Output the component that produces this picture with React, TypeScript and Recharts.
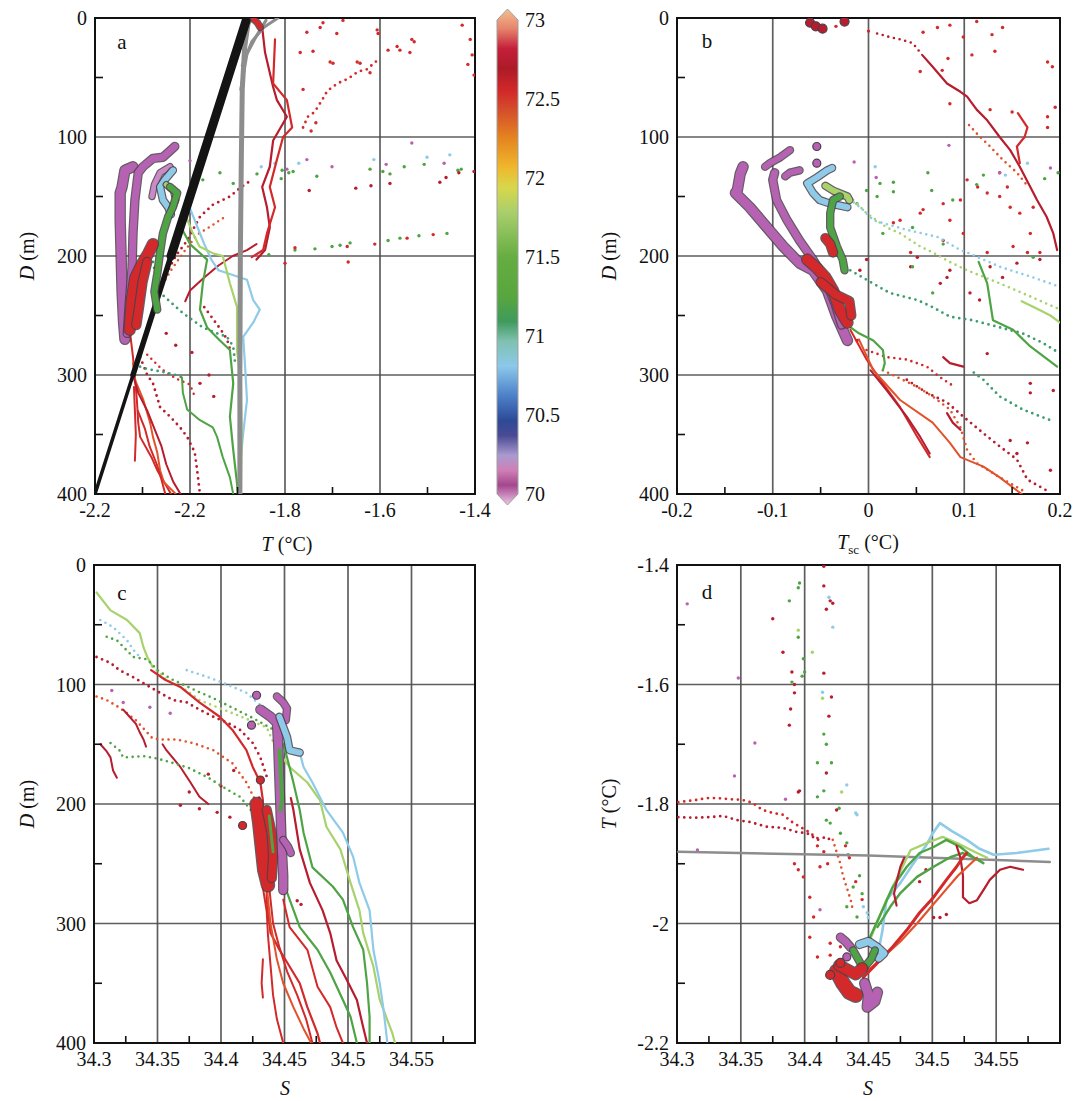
import React from 'react';
import { ScatterChart, Scatter, XAxis, YAxis, CartesianGrid, ReferenceArea } from 'recharts';

type P = [number, number];

// ---------- shared ticks ----------
const dTicks = [0, 100, 200, 300, 400];
const dMinor = [50, 150, 250, 350];
const aTTicks = [-2.2, -2.0, -1.8, -1.6, -1.4];
const aTTickLabels = ['-2.2', '-2.2', '-1.8', '-1.6', '-1.4'];
const aTMinor = [-2.1, -1.9, -1.7, -1.5];
const bTTicks = [-0.2, -0.1, 0, 0.1, 0.2];
const bTMinor = [-0.15, -0.05, 0.05, 0.15];
const sTicks = [34.3, 34.35, 34.4, 34.45, 34.5, 34.55];
const sMinor = [34.325, 34.375, 34.425, 34.475, 34.525, 34.575];
const dTTicks = [-2.2, -2.0, -1.8, -1.6, -1.4];
const dTMinor = [-2.1, -1.9, -1.7, -1.5];
const cbTicks = [70, 70.5, 71, 71.5, 72, 72.5, 73];
const cbAnchor: P[] = [[0.5, 71.5]];

// ---------- panel a : T vs D ----------
const aFreezeDeep: P[] = [[-2.2, 400], [-2.12, 300]];
const aFreezeMid: P[] = [[-2.12, 300], [-2.04, 200]];
const aFreezeTop: P[] = [[-2.04, 200], [-1.96, 100], [-1.88, 0]];
const aGrayFan1: P[] = [[-1.89, 40], [-1.87, 20], [-1.845, 8], [-1.815, 0]];
const aGrayFan2: P[] = [[-1.893, 60], [-1.88, 30], [-1.86, 15], [-1.84, 2]];
const aGray: P[] = [[-1.895, 400], [-1.895, 300], [-1.894, 200], [-1.892, 120], [-1.89, 60], [-1.885, 25], [-1.878, 5], [-1.872, 0]];
const aRedTop: P[] = [[-1.866, 1], [-1.858, 4], [-1.852, 8]];
const aRedU1: P[] = [[-1.848, 8], [-1.842, 29], [-1.825, 58], [-1.817, 69], [-1.796, 83], [-1.825, 103], [-1.832, 125], [-1.848, 142], [-1.838, 159], [-1.832, 176], [-1.842, 195], [-1.86, 203]];
const aRedU2: P[] = [[-1.821, 18], [-1.825, 55], [-1.796, 69], [-1.785, 92], [-1.804, 100], [-1.817, 119], [-1.832, 142], [-1.821, 159], [-1.838, 181], [-1.846, 195], [-1.87, 201]];
const aRedUR: P[] = [[-1.762, 92], [-1.752, 83], [-1.741, 80], [-1.733, 76], [-1.722, 69], [-1.712, 62], [-1.701, 58], [-1.684, 54], [-1.667, 51], [-1.646, 45], [-1.627, 43], [-1.604, 35]];
const aRedDotsUR: P[] = [[-1.72, 4], [-1.678, 2], [-1.606, 10], [-1.604, 13], [-1.754, 12], [-1.726, 8], [-1.691, 13], [-1.768, 29], [-1.741, 28], [-1.705, 37], [-1.699, 38], [-1.648, 37], [-1.642, 38], [-1.621, 46], [-1.583, 27], [-1.564, 24], [-1.558, 27], [-1.533, 18], [-1.528, 20], [-1.537, 29], [-1.427, 6], [-1.41, 18], [-1.406, 31], [-1.415, 39], [-1.402, 48], [-1.762, 60], [-1.745, 95], [-1.735, 88]];
const aRowBlue: P[] = [[-1.821, 122], [-1.771, 122], [-1.613, 119], [-1.501, 117], [-1.453, 115], [-1.85, 125]];
const aRowMag: P[] = [[-1.796, 127], [-1.754, 119], [-1.701, 125], [-1.587, 123], [-1.533, 105], [-1.465, 122], [-2.0, 120]];
const aRowGreen: P[] = [[-1.792, 130], [-1.783, 129], [-1.733, 133], [-1.808, 135], [-1.621, 127], [-1.594, 129], [-1.579, 131], [-1.549, 125], [-1.507, 123], [-1.436, 128], [-1.429, 127], [-1.973, 136], [-1.937, 130], [-1.909, 139], [-1.859, 131], [-1.806, 128]];
const aRowRed: P[] = [[-1.749, 145], [-1.651, 143], [-1.619, 141], [-1.579, 139], [-1.474, 138], [-1.461, 134], [-1.434, 130], [-1.402, 129]];
const aLowGreen: P[] = [[-1.834, 199], [-1.779, 195], [-1.737, 194], [-1.701, 192], [-1.684, 191], [-1.663, 189], [-1.583, 187], [-1.558, 185], [-1.518, 183], [-1.459, 181]];
const aLowRed: P[] = [[-1.779, 193], [-1.669, 192], [-1.611, 190], [-1.543, 185], [-1.488, 182], [-1.667, 205], [-1.8, 206]];
const aRedMid1: P[] = [[-2.05, 215], [-2.03, 200], [-2.006, 187], [-1.979, 167], [-1.952, 157], [-1.916, 150], [-1.895, 143], [-1.87, 136]];
const aRedMid2: P[] = [[-2.07, 232], [-2.04, 212], [-2.01, 195], [-1.985, 182], [-1.96, 176], [-1.93, 168]];
const aRedMid3: P[] = [[-1.86, 190], [-1.88, 195], [-1.91, 200], [-1.94, 208], [-1.97, 218], [-2.0, 229], [-2.01, 238]];
const aRedMid4: P[] = [[-1.97, 243], [-1.955, 251], [-1.935, 262], [-1.922, 270], [-1.916, 278]];
const aRedMidDots: P[] = [[-1.996, 281], [-1.979, 307], [-1.96, 300], [-1.95, 318], [-2.03, 275], [-2.05, 265]];
const aRedD1: P[] = [[-2.126, 265], [-2.12, 285], [-2.116, 302], [-2.112, 320], [-2.109, 340], [-2.105, 352], [-2.08, 370], [-2.069, 380], [-2.05, 393], [-2.04, 400]];
const aRedD2: P[] = [[-2.12, 290], [-2.115, 305], [-2.099, 320], [-2.084, 340], [-2.078, 352], [-2.069, 365], [-2.063, 380], [-2.055, 390], [-2.03, 400]];
const aRedD3: P[] = [[-2.12, 300], [-2.109, 315], [-2.09, 330], [-2.075, 345], [-2.06, 360], [-2.05, 375], [-2.035, 390], [-2.02, 400]];
const aRedD4: P[] = [[-2.105, 285], [-2.09, 300], [-2.078, 307], [-2.063, 327], [-2.042, 335], [-2.021, 344], [-2.006, 352], [-1.99, 365], [-1.985, 380], [-1.979, 400]];
const aRedD5: P[] = [[-2.118, 310], [-2.116, 330], [-2.114, 350], [-2.116, 372]];
const aRedD6: P[] = [[-2.09, 283], [-2.06, 295], [-2.03, 303], [-2.0, 308], [-1.99, 318]];
const aRedD7: P[] = [[-2.11, 330], [-2.095, 345], [-2.085, 360], [-2.07, 375], [-2.06, 388], [-2.052, 400]];
const aMag1: P[] = [[-2.12, 125], [-2.137, 128], [-2.143, 142], [-2.147, 147], [-2.147, 170], [-2.145, 200], [-2.143, 230], [-2.14, 255], [-2.137, 270]];
const aMag2: P[] = [[-2.032, 108], [-2.057, 117], [-2.078, 118], [-2.099, 125], [-2.109, 130], [-2.116, 153], [-2.12, 181], [-2.122, 210], [-2.128, 240], [-2.132, 265]];
const aMag3: P[] = [[-2.042, 125], [-2.063, 130], [-2.075, 140], [-2.08, 150]];
const aBlueBlob: P[] = [[-2.036, 128], [-2.053, 136], [-2.063, 142], [-2.057, 153], [-2.046, 159], [-2.04, 165]];
const aLGreenBlob: P[] = [[-2.05, 140], [-2.035, 145], [-2.03, 153], [-2.038, 160]];
const aGreenBlob: P[] = [[-2.042, 142], [-2.027, 147], [-2.036, 159], [-2.046, 167], [-2.057, 181], [-2.063, 197], [-2.069, 215], [-2.075, 230], [-2.069, 245]];
const aRedBlob1: P[] = [[-2.078, 190], [-2.088, 198], [-2.1, 206], [-2.115, 218], [-2.122, 235], [-2.125, 250], [-2.127, 262]];
const aRedBlob2: P[] = [[-2.09, 205], [-2.1, 222], [-2.108, 245], [-2.113, 258]];
const aLBlueProf: P[] = [[-2.0, 160], [-1.985, 175], [-1.97, 190], [-1.955, 203], [-1.94, 212], [-1.91, 216], [-1.88, 220], [-1.867, 237], [-1.853, 245], [-1.867, 256], [-1.888, 268], [-1.884, 293], [-1.88, 321], [-1.888, 349], [-1.895, 377], [-1.899, 400]];
const aLGreenProf: P[] = [[-2.01, 165], [-1.995, 180], [-1.98, 192], [-1.95, 198], [-1.931, 200], [-1.916, 223], [-1.901, 243], [-1.901, 279], [-1.893, 307], [-1.891, 350], [-1.893, 400]];
const aGreenProf: P[] = [[-2.02, 175], [-2.0, 190], [-1.964, 203], [-1.973, 223], [-1.979, 245], [-1.964, 260], [-1.937, 271], [-1.916, 279], [-1.909, 307], [-1.916, 335], [-1.909, 363], [-1.901, 391], [-1.899, 400]];
const aTealDots: P[] = [[-2.078, 205], [-2.069, 223], [-2.057, 233], [-2.015, 248], [-1.973, 260], [-1.943, 265], [-1.922, 268], [-1.909, 276], [-1.905, 290]];
const aGreen4a: P[] = [[-2.105, 293], [-2.09, 295], [-2.075, 296], [-2.05, 298], [-2.03, 300], [-2.017, 302]];
const aGreen4b: P[] = [[-2.017, 302], [-2.015, 315], [-2.006, 329], [-1.979, 338], [-1.952, 344], [-1.943, 352], [-1.931, 369], [-1.916, 386], [-1.909, 400]];

// ---------- panel b : Tsc vs D ----------
const bRedTopBig: P[] = [[-0.061, 4], [-0.055, 7], [-0.048, 9], [-0.025, 3]];
const bRedMainTop: P[] = [[0.009, 13], [0.022, 16], [0.033, 18], [0.046, 21], [0.052, 27], [0.056, 31]];
const bRedMain: P[] = [[0.056, 31], [0.067, 41], [0.082, 55], [0.096, 62], [0.103, 66], [0.113, 77], [0.124, 86], [0.137, 100], [0.148, 111], [0.158, 125], [0.169, 142], [0.176, 153], [0.186, 167], [0.193, 181], [0.197, 195]];
const bRedPar: P[] = [[0.105, 90], [0.113, 97], [0.127, 108], [0.14, 119], [0.155, 130], [0.165, 140]];
const bRedShort: P[] = [[0.156, 80], [0.166, 92], [0.163, 100], [0.155, 108], [0.158, 122]];
const bRedDotsUp: P[] = [[0.057, 12], [0.072, 8], [0.085, 6], [0.099, 16], [0.113, 3], [0.129, 14], [0.14, 8], [0.083, 34], [0.108, 31], [0.132, 28], [0.187, 37], [0.192, 41], [0.195, 75], [0.187, 83], [0.187, 92], [0.127, 77], [0.15, 79], [0.085, 72], [0.077, 44], [0.054, 45], [-0.034, 7], [0.0, 11]];
const bRedDotsMid: P[] = [[0.103, 136], [0.114, 142], [0.124, 147], [0.137, 130], [0.145, 142], [0.148, 159], [0.158, 164], [0.172, 159], [0.169, 181], [0.151, 192], [0.166, 197], [0.179, 197], [0.124, 197], [0.096, 153], [0.078, 156], [0.057, 161], [0.054, 164], [0.078, 187], [0.099, 181], [0.033, 170], [0.026, 172], [0.044, 197], [0.085, 170], [0.137, 150]];
const bRedDotsLow: P[] = [[0.124, 282], [0.148, 355], [0.166, 357], [0.155, 366], [0.19, 380], [0.193, 313], [0.169, 307], [0.169, 315], [0.106, 231], [0.116, 237], [0.127, 209], [0.14, 218], [0.155, 206], [0.179, 203], [0.082, 218], [0.085, 212], [0.075, 223], [0.044, 209], [0.051, 201], [-0.002, 203], [-0.009, 212], [-0.012, 271]];
const bGreenDots: P[] = [[-0.002, 145], [0.012, 139], [0.026, 138], [0.026, 146], [0.009, 150], [0.062, 130], [0.066, 145], [0.088, 153], [0.113, 140], [0.12, 132], [0.184, 135], [0.198, 130], [-0.012, 156], [0.015, 181], [0.046, 176], [0.078, 190], [0.172, 201], [0.046, 209], [0.067, 231]];
const bMagDots: P[] = [[-0.015, 121], [0.008, 134], [0.084, 107], [0.137, 130], [0.19, 126]];
const bBlueDots: P[] = [[0.007, 125], [0.166, 122], [0.143, 132]];
const bLGreenDiag: P[] = [[-0.016, 153], [-0.002, 164], [0.019, 176], [0.033, 181], [0.054, 192], [0.067, 197], [0.085, 205], [0.103, 212], [0.137, 223], [0.169, 234], [0.2, 245]];
const bLBlueDiag: P[] = [[-0.02, 152], [-0.006, 161], [0.005, 170], [0.04, 178], [0.072, 184], [0.096, 195], [0.103, 197], [0.137, 209], [0.172, 218], [0.2, 226]];
const bTealDiag: P[] = [[-0.019, 212], [-0.002, 220], [0.022, 231], [0.051, 237], [0.067, 243], [0.085, 251], [0.109, 254], [0.137, 260], [0.161, 265], [0.182, 273], [0.2, 282]];
const bGreenDown: P[] = [[-0.022, 258], [-0.01, 265], [0.005, 271], [0.015, 279], [0.017, 290], [0.015, 296]];
const bGreenR1: P[] = [[0.115, 205], [0.124, 223], [0.13, 254], [0.151, 262], [0.169, 276], [0.197, 293]];
const bGreenR2: P[] = [[0.11, 298], [0.12, 304], [0.137, 318], [0.161, 329], [0.19, 338]];
const bLGreenR: P[] = [[0.16, 238], [0.175, 244], [0.19, 250], [0.2, 256]];
const bRedD1: P[] = [[-0.019, 262], [-0.002, 287], [0.015, 307], [0.033, 327], [0.051, 352], [0.064, 369]];
const bRedD2: P[] = [[-0.01, 270], [0.005, 296], [0.033, 321], [0.067, 340], [0.085, 357], [0.096, 369], [0.12, 377], [0.137, 386], [0.155, 397], [0.16, 400]];
const bRedD3: P[] = [[0.015, 296], [0.051, 310], [0.067, 318], [0.085, 329], [0.096, 344], [0.103, 363], [0.113, 374], [0.137, 386], [0.161, 397]];
const bRedD4: P[] = [[0.04, 304], [0.061, 315], [0.082, 323], [0.099, 335], [0.12, 349], [0.137, 360], [0.155, 371], [0.166, 388], [0.186, 397]];
const bRedD5: P[] = [[-0.002, 279], [0.019, 285], [0.04, 287], [0.061, 293], [0.075, 302], [0.09, 310]];
const bRedD6: P[] = [[0.078, 285], [0.085, 290], [0.099, 293]];
const bRedD6b: P[] = [[0.082, 332], [0.088, 340], [0.096, 346]];
const bRedD7: P[] = [[0.002, 296], [0.019, 313], [0.04, 335], [0.054, 352], [0.064, 366]];
const bMag1: P[] = [[-0.131, 125], [-0.134, 131], [-0.137, 145], [-0.139, 147], [-0.124, 159], [-0.106, 176], [-0.089, 192], [-0.072, 206], [-0.058, 212], [-0.043, 229], [-0.033, 251], [-0.022, 271]];
const bMag2: P[] = [[-0.098, 130], [-0.1, 136], [-0.096, 153], [-0.085, 170], [-0.072, 187], [-0.058, 203], [-0.045, 220], [-0.035, 240], [-0.028, 258]];
const bMag3: P[] = [[-0.108, 125], [-0.103, 122], [-0.092, 117], [-0.082, 111]];
const bMag4: P[] = [[-0.087, 133], [-0.082, 130], [-0.072, 128]];
const bMagBig: P[] = [[-0.054, 108], [-0.054, 122]];
const bBlueBlob: P[] = [[-0.038, 126], [-0.043, 128], [-0.054, 134], [-0.064, 139], [-0.058, 147], [-0.051, 153], [-0.04, 156], [-0.022, 159]];
const bLGreenBlob: P[] = [[-0.045, 141], [-0.037, 145], [-0.022, 150], [-0.02, 153]];
const bGreenBlob: P[] = [[-0.03, 150], [-0.037, 153], [-0.04, 164], [-0.04, 176], [-0.033, 192], [-0.027, 203], [-0.025, 212]];
const bRedBlob1: P[] = [[-0.045, 185], [-0.04, 190], [-0.037, 197]];
const bRedBlob2: P[] = [[-0.064, 203], [-0.054, 210], [-0.045, 218], [-0.037, 229], [-0.03, 245], [-0.022, 256]];
const bRedBlob3: P[] = [[-0.05, 222], [-0.035, 232], [-0.02, 238], [-0.018, 250]];

// ---------- panel c : S vs D ----------
const cLGreen1a: P[] = [[34.302, 23], [34.313, 38], [34.326, 46], [34.336, 57], [34.339, 69], [34.342, 77], [34.346, 85]];
const cLGreen1b: P[] = [[34.346, 85], [34.357, 96], [34.373, 105], [34.383, 113], [34.397, 119], [34.409, 124], [34.423, 130], [34.436, 136], [34.444, 155]];
const cLGreen1c: P[] = [[34.444, 155], [34.454, 169], [34.468, 182], [34.478, 197], [34.483, 219], [34.494, 238], [34.502, 266], [34.509, 289], [34.512, 308], [34.52, 336], [34.525, 364], [34.535, 392], [34.537, 400]];
const cLBlue1: P[] = [[34.305, 46], [34.315, 52], [34.32, 57], [34.326, 63], [34.331, 71], [34.336, 77]];
const cLBlue2: P[] = [[34.373, 88], [34.39, 94], [34.405, 100], [34.42, 107], [34.433, 119], [34.441, 125]];
const cLBlueBlob: P[] = [[34.446, 127], [34.452, 144], [34.454, 155], [34.462, 157]];
const cLBlue3: P[] = [[34.462, 157], [34.465, 169], [34.472, 182], [34.483, 205], [34.496, 224], [34.504, 244], [34.509, 266], [34.517, 289], [34.52, 322], [34.525, 350], [34.528, 372], [34.531, 400]];
const cGreen1: P[] = [[34.31, 60], [34.318, 63], [34.331, 77], [34.342, 79], [34.35, 88], [34.36, 95], [34.37, 100], [34.38, 105], [34.395, 112], [34.41, 120], [34.425, 128], [34.44, 137]];
const cRedMain: P[] = [[34.345, 88], [34.356, 96], [34.368, 102], [34.383, 115], [34.399, 127], [34.409, 138], [34.42, 155], [34.425, 169], [34.431, 182], [34.433, 197], [34.433, 224], [34.436, 253], [34.436, 280], [34.439, 308], [34.446, 322], [34.454, 336], [34.462, 350], [34.468, 370], [34.476, 392], [34.478, 400]];
const cRed1: P[] = [[34.302, 77], [34.313, 82], [34.32, 88], [34.331, 94], [34.352, 107], [34.362, 113], [34.373, 115], [34.383, 121], [34.394, 127], [34.405, 132], [34.415, 138], [34.425, 149], [34.431, 161], [34.436, 177]];
const cRed2: P[] = [[34.302, 110], [34.31, 113], [34.318, 118], [34.326, 124], [34.333, 130], [34.34, 138], [34.346, 145], [34.352, 146], [34.365, 146], [34.378, 149], [34.394, 155], [34.409, 166], [34.42, 182], [34.428, 199]];
const cRed3: P[] = [[34.323, 121], [34.328, 127], [34.333, 133], [34.336, 140], [34.339, 146], [34.341, 152]];
const cRed4: P[] = [[34.305, 150], [34.31, 156], [34.313, 161], [34.315, 172], [34.318, 178]];
const cRed5: P[] = [[34.354, 150], [34.357, 155], [34.368, 169], [34.376, 182], [34.383, 194], [34.39, 200]];
const cRedDots: P[] = [[34.368, 201], [34.383, 204], [34.397, 207], [34.407, 211], [34.39, 175], [34.4, 185], [34.375, 190], [34.41, 172], [34.43, 195], [34.46, 281], [34.463, 284]];
const cGreen2: P[] = [[34.313, 149], [34.32, 155], [34.323, 161], [34.339, 160], [34.35, 162], [34.36, 165], [34.375, 170], [34.39, 178], [34.405, 188], [34.415, 194], [34.425, 207]];
const cGreen3: P[] = [[34.449, 150], [34.452, 161], [34.457, 182], [34.462, 205], [34.465, 224], [34.472, 253], [34.488, 269], [34.496, 280], [34.504, 303], [34.512, 322], [34.515, 350], [34.517, 378], [34.517, 400]];
const cGreen5: P[] = [[34.45, 262], [34.452, 274], [34.462, 303], [34.476, 322], [34.486, 341], [34.496, 364], [34.502, 378], [34.507, 400]];
const cDarkRed7: P[] = [[34.455, 195], [34.457, 205], [34.462, 238], [34.47, 266], [34.48, 289], [34.486, 308], [34.491, 331], [34.499, 347], [34.507, 364], [34.512, 387], [34.515, 400]];
const cRed8: P[] = [[34.449, 280], [34.454, 303], [34.468, 322], [34.476, 353], [34.486, 370], [34.491, 387], [34.496, 400]];
const cRed9: P[] = [[34.433, 270], [34.436, 290], [34.437, 310], [34.439, 335], [34.441, 360], [34.444, 380], [34.449, 400]];
const cRed10: P[] = [[34.436, 268], [34.439, 300], [34.444, 330], [34.449, 350], [34.457, 370], [34.465, 388], [34.471, 400]];
const cRed11: P[] = [[34.438, 270], [34.441, 300], [34.446, 320], [34.452, 340], [34.46, 360], [34.467, 380], [34.472, 400]];
const cRed12: P[] = [[34.433, 330], [34.432, 350], [34.433, 362]];
const cRedBlob1: P[] = [[34.428, 200], [34.43, 215], [34.432, 235], [34.434, 255], [34.437, 268]];
const cRedBlob2: P[] = [[34.436, 205], [34.44, 225], [34.441, 245], [34.44, 262]];
const cRedBig: P[] = [[34.417, 218], [34.431, 180]];
const cMag1: P[] = [[34.431, 121], [34.439, 127], [34.444, 132], [34.445, 150], [34.446, 180], [34.447, 210], [34.448, 240], [34.449, 260], [34.449, 272]];
const cMag2: P[] = [[34.444, 110], [34.449, 115], [34.452, 120], [34.451, 130]];
const cMag3: P[] = [[34.449, 230], [34.453, 236], [34.455, 241]];
const cMagBig: P[] = [[34.428, 109], [34.424, 134]];
const cGreenBlob: P[] = [[34.446, 155], [34.447, 175], [34.448, 195], [34.447, 205]];
const cGreenThin: P[] = [[34.438, 210], [34.44, 230], [34.441, 240]];
const cMagDots: P[] = [[34.323, 115], [34.344, 119], [34.36, 124], [34.314, 105]];

// ---------- panel d : S vs T ----------
const dGray: P[] = [[34.301, -1.88], [34.45, -1.886], [34.592, -1.897]];
const dRedA: P[] = [[34.301, -1.797], [34.316, -1.793], [34.323, -1.79], [34.331, -1.79], [34.342, -1.792], [34.351, -1.793], [34.359, -1.798], [34.367, -1.81], [34.375, -1.815], [34.383, -1.818], [34.39, -1.83], [34.396, -1.838], [34.402, -1.845], [34.405, -1.85], [34.41, -1.857]];
const dRedB: P[] = [[34.301, -1.822], [34.313, -1.823], [34.326, -1.822], [34.336, -1.82], [34.347, -1.827], [34.357, -1.83], [34.37, -1.838], [34.383, -1.84], [34.394, -1.847], [34.402, -1.849], [34.41, -1.86], [34.417, -1.855], [34.42, -1.86]];
const dRedV1: P[] = [[34.422, -1.86], [34.425, -1.88], [34.428, -1.9], [34.43, -1.92], [34.433, -1.94], [34.436, -1.96], [34.438, -1.98]];
const dRedDotsV: P[] = [[34.399, -1.922], [34.404, -1.956], [34.407, -1.989], [34.41, -2.056], [34.404, -2.023], [34.42, -2.033], [34.42, -2.053], [34.428, -2.039], [34.41, -1.87], [34.415, -1.88], [34.412, -1.905], [34.418, -1.9], [34.432, -1.87], [34.435, -1.89], [34.44, -1.93], [34.445, -1.96], [34.392, -1.9], [34.395, -1.91]];
const dGreenDotsV: P[] = [[34.42, -1.832], [34.433, -1.865], [34.434, -1.885], [34.438, -1.939], [34.441, -1.989], [34.433, -1.972], [34.428, -1.849], [34.417, -1.827], [34.445, -1.95], [34.443, -1.92]];
const dBlueDotsV: P[] = [[34.441, -1.818], [34.446, -1.972], [34.449, -1.982], [34.45, -1.99]];
const dMagDotsV: P[] = [[34.412, -1.977], [34.316, -1.877]];
const dUpMag: P[] = [[34.308, -1.465], [34.348, -1.589], [34.361, -1.698], [34.345, -1.753], [34.385, -1.792]];
const dUpGreen: P[] = [[34.396, -1.43], [34.395, -1.438], [34.388, -1.46], [34.395, -1.521], [34.399, -1.557], [34.4, -1.579], [34.398, -1.586], [34.39, -1.596], [34.415, -1.683], [34.417, -1.7], [34.41, -1.731], [34.421, -1.731], [34.415, -1.778], [34.41, -1.788], [34.427, -1.807]];
const dUpLGreen: P[] = [[34.395, -1.509], [34.406, -1.546], [34.414, -1.623], [34.429, -1.78]];
const dUpBlue: P[] = [[34.419, -1.454], [34.422, -1.504], [34.414, -1.613], [34.433, -1.768], [34.44, -1.815]];
const dUpRed: P[] = [[34.415, -1.402], [34.415, -1.435], [34.42, -1.46], [34.422, -1.464], [34.417, -1.474], [34.375, -1.49], [34.383, -1.546], [34.39, -1.579], [34.392, -1.6], [34.392, -1.614], [34.415, -1.581], [34.421, -1.621], [34.389, -1.641], [34.388, -1.668], [34.419, -1.653], [34.417, -1.748], [34.396, -1.778], [34.395, -1.78], [34.425, -1.81]];
const dLBlue: P[] = [[34.455, -2.04], [34.459, -2.033], [34.461, -2.011], [34.464, -1.961], [34.475, -1.932], [34.485, -1.9], [34.495, -1.87], [34.5, -1.85], [34.506, -1.832], [34.515, -1.845], [34.527, -1.86], [34.537, -1.875], [34.548, -1.885], [34.566, -1.882], [34.591, -1.875]];
const dGreen1: P[] = [[34.449, -2.033], [34.461, -1.977], [34.469, -1.939], [34.48, -1.905], [34.49, -1.882], [34.501, -1.872], [34.511, -1.86], [34.522, -1.872], [34.532, -1.889], [34.54, -1.899]];
const dGreen2: P[] = [[34.457, -2.006], [34.467, -1.972], [34.475, -1.949], [34.488, -1.922], [34.501, -1.905], [34.514, -1.889], [34.524, -1.882], [34.537, -1.894]];
const dLGreen: P[] = [[34.451, -2.028], [34.464, -1.961], [34.483, -1.877], [34.496, -1.865], [34.508, -1.855], [34.519, -1.865], [34.535, -1.882], [34.543, -1.89]];
const dRedMain: P[] = [[34.446, -2.09], [34.457, -2.066], [34.469, -2.039], [34.48, -2.011], [34.49, -1.982], [34.501, -1.956], [34.511, -1.927], [34.519, -1.905], [34.524, -1.889], [34.527, -1.882]];
const dRedMain2: P[] = [[34.449, -2.08], [34.462, -2.055], [34.475, -2.03], [34.488, -2.0], [34.5, -1.97], [34.51, -1.945], [34.52, -1.92], [34.53, -1.9], [34.535, -1.89]];
const dDarkRed1: P[] = [[34.472, -1.97], [34.47, -1.95], [34.472, -1.93], [34.475, -1.905], [34.478, -1.89]];
const dDarkRed2: P[] = [[34.519, -1.87], [34.522, -1.89], [34.524, -1.92], [34.524, -1.956], [34.529, -1.966], [34.535, -1.961], [34.54, -1.944], [34.545, -1.927], [34.553, -1.91], [34.561, -1.905], [34.571, -1.91]];
const dDarkRedDots: P[] = [[34.501, -1.99], [34.506, -1.99], [34.511, -1.985], [34.49, -1.93], [34.495, -1.91]];
const dRedBlob1: P[] = [[34.425, -2.08], [34.43, -2.1], [34.435, -2.115], [34.44, -2.12]];
const dRedBlob2: P[] = [[34.427, -2.07], [34.44, -2.085], [34.445, -2.075]];
const dRedBig: P[] = [[34.42, -2.086], [34.428, -2.066]];
const dMagBlob1: P[] = [[34.447, -2.1], [34.45, -2.12], [34.449, -2.14], [34.455, -2.13], [34.457, -2.115]];
const dMagBlob2: P[] = [[34.428, -2.023], [34.432, -2.03], [34.436, -2.04]];
const dMagBig: P[] = [[34.433, -2.056]];
const dBlueBlob: P[] = [[34.443, -2.035], [34.45, -2.03], [34.457, -2.04], [34.462, -2.05], [34.458, -2.058]];
const dGreenBlob: P[] = [[34.438, -2.045], [34.442, -2.06], [34.446, -2.075], [34.452, -2.06], [34.455, -2.045]];

// ---------- styles ----------
const RED = '#d3292a';
const DRED = '#b71d2e';
const ORED = '#e2522b';
const GREEN = '#4ea444';
const LGREEN = '#a8d26c';
const TEAL = '#3e9d70';
const LBLUE = '#8ecbe8';
const MAG = '#b662b2';
const PINK = '#c98ac6';
const GRAY = '#8d8d8d';
const BLACK = '#141414';
const OUTLINE = '#4b3f4a';
const SERIF = "'Liberation Serif', 'Times New Roman', serif";
const TICK_STYLE: React.CSSProperties = { fontFamily: SERIF, fontSize: 20 };

const cbStops: [number, string][] = [
  [0, '#f3c08e'], [0.04, '#e6836c'], [0.08, '#c41f3a'], [0.12, '#ad1b27'], [0.165, '#d2282a'], [0.2, '#d44a2c'],
  [0.26, '#e4841f'], [0.32, '#efb82c'], [0.36, '#d8d74c'], [0.41, '#a9cf6c'], [0.5, '#66ad42'], [0.58, '#58a63e'],
  [0.63, '#3f9a5c'], [0.67, '#80c1b0'], [0.72, '#8cc8ea'], [0.78, '#4c80c8'], [0.83, '#2d4a96'], [0.86, '#4a4a94'],
  [0.9, '#aa9ad0'], [0.93, '#cf7fb6'], [0.96, '#a4468e'], [1, '#eec8e6'],
];

type Kind = 'line' | 'dots' | 'blob' | 'pts' | 'big';
interface Ser { d: P[]; k: Kind; c: string; w?: number }

const aSeries: Ser[] = [
  { d: aRowBlue, k: 'pts', c: LBLUE, w: 2 },
  { d: aRowMag, k: 'pts', c: MAG, w: 2 },
  { d: aRowGreen, k: 'pts', c: GREEN, w: 2 },
  { d: aRowRed, k: 'pts', c: DRED, w: 2 },
  { d: aLowGreen, k: 'pts', c: GREEN, w: 2 },
  { d: aLowRed, k: 'pts', c: RED, w: 2 },
  { d: aRedDotsUR, k: 'pts', c: RED, w: 2 },
  { d: aRedUR, k: 'dots', c: RED, w: 2.8 },
  { d: aRedMid1, k: 'dots', c: DRED, w: 2.8 },
  { d: aRedMid2, k: 'dots', c: ORED, w: 2.5 },
  { d: aRedMid3, k: 'line', c: DRED, w: 2 },
  { d: aRedMid4, k: 'dots', c: DRED, w: 2.8 },
  { d: aRedMidDots, k: 'pts', c: DRED, w: 2 },
  { d: aRedD1, k: 'line', c: RED, w: 2 },
  { d: aRedD2, k: 'line', c: ORED, w: 2 },
  { d: aRedD3, k: 'line', c: DRED, w: 2 },
  { d: aRedD4, k: 'dots', c: DRED, w: 2.8 },
  { d: aRedD5, k: 'line', c: RED, w: 2 },
  { d: aRedD6, k: 'dots', c: RED, w: 2.5 },
  { d: aRedD7, k: 'line', c: RED, w: 2 },
  { d: aTealDots, k: 'dots', c: TEAL, w: 2.8 },
  { d: aGreen4a, k: 'dots', c: TEAL, w: 2.8 },
  { d: aGreen4b, k: 'line', c: GREEN, w: 2 },
  { d: aLBlueProf, k: 'line', c: LBLUE, w: 2.2 },
  { d: aLGreenProf, k: 'line', c: LGREEN, w: 2.2 },
  { d: aGreenProf, k: 'line', c: GREEN, w: 2.2 },
  { d: aRedU1, k: 'line', c: DRED, w: 2.2 },
  { d: aRedU2, k: 'line', c: RED, w: 2.2 },
  { d: aGray, k: 'line', c: GRAY, w: 5 },
  { d: aGrayFan1, k: 'line', c: GRAY, w: 3 },
  { d: aGrayFan2, k: 'line', c: GRAY, w: 3 },
  { d: aFreezeDeep, k: 'line', c: BLACK, w: 3.5 },
  { d: aFreezeMid, k: 'line', c: BLACK, w: 5.5 },
  { d: aFreezeTop, k: 'line', c: BLACK, w: 9 },
  { d: aRedTop, k: 'blob', c: RED, w: 5 },
  { d: aMag1, k: 'blob', c: MAG, w: 9 },
  { d: aMag2, k: 'blob', c: MAG, w: 7 },
  { d: aMag3, k: 'blob', c: PINK, w: 5 },
  { d: aBlueBlob, k: 'blob', c: LBLUE, w: 6 },
  { d: aLGreenBlob, k: 'blob', c: LGREEN, w: 5 },
  { d: aGreenBlob, k: 'blob', c: GREEN, w: 6 },
  { d: aRedBlob1, k: 'blob', c: RED, w: 10 },
  { d: aRedBlob2, k: 'blob', c: RED, w: 8 },
];

const bSeries: Ser[] = [
  { d: bRedDotsUp, k: 'pts', c: RED, w: 2 },
  { d: bRedDotsMid, k: 'pts', c: RED, w: 2 },
  { d: bRedDotsLow, k: 'pts', c: DRED, w: 2 },
  { d: bGreenDots, k: 'pts', c: GREEN, w: 2 },
  { d: bMagDots, k: 'pts', c: MAG, w: 2 },
  { d: bBlueDots, k: 'pts', c: LBLUE, w: 2 },
  { d: bRedMainTop, k: 'dots', c: DRED, w: 2.6 },
  { d: bRedMain, k: 'line', c: DRED, w: 2.2 },
  { d: bRedPar, k: 'dots', c: ORED, w: 2.6 },
  { d: bRedShort, k: 'line', c: RED, w: 2.2 },
  { d: bLGreenDiag, k: 'dots', c: LGREEN, w: 2.6 },
  { d: bLBlueDiag, k: 'dots', c: LBLUE, w: 2.6 },
  { d: bTealDiag, k: 'dots', c: TEAL, w: 2.8 },
  { d: bGreenR1, k: 'line', c: GREEN, w: 2.2 },
  { d: bGreenR2, k: 'dots', c: TEAL, w: 2.8 },
  { d: bLGreenR, k: 'line', c: LGREEN, w: 2.2 },
  { d: bRedD1, k: 'line', c: RED, w: 2 },
  { d: bRedD2, k: 'line', c: ORED, w: 2 },
  { d: bRedD3, k: 'dots', c: ORED, w: 2.6 },
  { d: bRedD4, k: 'dots', c: DRED, w: 2.8 },
  { d: bRedD5, k: 'dots', c: RED, w: 2.6 },
  { d: bRedD6, k: 'line', c: DRED, w: 2.2 },
  { d: bRedD6b, k: 'line', c: DRED, w: 2.2 },
  { d: bRedD7, k: 'line', c: DRED, w: 2 },
  { d: bGreenDown, k: 'line', c: GREEN, w: 2.2 },
  { d: bMag1, k: 'blob', c: MAG, w: 9 },
  { d: bMag2, k: 'blob', c: MAG, w: 7 },
  { d: bMag3, k: 'blob', c: MAG, w: 6 },
  { d: bMag4, k: 'blob', c: MAG, w: 6 },
  { d: bMagBig, k: 'big', c: MAG, w: 4 },
  { d: bBlueBlob, k: 'blob', c: LBLUE, w: 6 },
  { d: bLGreenBlob, k: 'blob', c: LGREEN, w: 6 },
  { d: bGreenBlob, k: 'blob', c: GREEN, w: 6 },
  { d: bRedBlob1, k: 'blob', c: RED, w: 8 },
  { d: bRedBlob2, k: 'blob', c: RED, w: 10 },
  { d: bRedBlob3, k: 'blob', c: RED, w: 8 },
  { d: bRedTopBig, k: 'big', c: DRED, w: 4.5 },
];

const cSeries: Ser[] = [
  { d: cMagDots, k: 'pts', c: MAG, w: 2 },
  { d: cRedDots, k: 'pts', c: DRED, w: 2 },
  { d: cLGreen1a, k: 'line', c: LGREEN, w: 2.2 },
  { d: cLGreen1b, k: 'dots', c: LGREEN, w: 2.6 },
  { d: cLBlue1, k: 'dots', c: LBLUE, w: 2.6 },
  { d: cLBlue2, k: 'dots', c: LBLUE, w: 2.6 },
  { d: cGreen1, k: 'dots', c: GREEN, w: 2.6 },
  { d: cRed1, k: 'dots', c: DRED, w: 2.8 },
  { d: cRed2, k: 'dots', c: ORED, w: 2.6 },
  { d: cRed3, k: 'line', c: DRED, w: 2 },
  { d: cRed4, k: 'line', c: DRED, w: 2 },
  { d: cRed5, k: 'line', c: DRED, w: 2 },
  { d: cGreen2, k: 'dots', c: GREEN, w: 2.6 },
  { d: cRedMain, k: 'line', c: RED, w: 2.2 },
  { d: cLGreen1c, k: 'line', c: LGREEN, w: 2.2 },
  { d: cLBlue3, k: 'line', c: LBLUE, w: 2.2 },
  { d: cGreen3, k: 'line', c: GREEN, w: 2.2 },
  { d: cGreen5, k: 'line', c: GREEN, w: 2.2 },
  { d: cDarkRed7, k: 'line', c: DRED, w: 2.2 },
  { d: cRed8, k: 'line', c: RED, w: 2 },
  { d: cRed9, k: 'line', c: RED, w: 2 },
  { d: cRed10, k: 'line', c: ORED, w: 2 },
  { d: cRed11, k: 'line', c: RED, w: 2 },
  { d: cRed12, k: 'line', c: RED, w: 2 },
  { d: cMag1, k: 'blob', c: MAG, w: 8 },
  { d: cMag2, k: 'blob', c: MAG, w: 6 },
  { d: cMag3, k: 'blob', c: MAG, w: 6 },
  { d: cMagBig, k: 'big', c: MAG, w: 4 },
  { d: cGreenBlob, k: 'line', c: GREEN, w: 4 },
  { d: cLBlueBlob, k: 'blob', c: LBLUE, w: 6 },
  { d: cRedBlob1, k: 'blob', c: RED, w: 12 },
  { d: cRedBlob2, k: 'blob', c: RED, w: 8 },
  { d: cGreenThin, k: 'line', c: GREEN, w: 3 },
  { d: cRedBig, k: 'big', c: RED, w: 4 },
];

const dSeries: Ser[] = [
  { d: dUpMag, k: 'pts', c: MAG, w: 2 },
  { d: dUpGreen, k: 'pts', c: GREEN, w: 2 },
  { d: dUpLGreen, k: 'pts', c: LGREEN, w: 2 },
  { d: dUpBlue, k: 'pts', c: LBLUE, w: 2 },
  { d: dUpRed, k: 'pts', c: DRED, w: 2 },
  { d: dRedDotsV, k: 'pts', c: RED, w: 2 },
  { d: dGreenDotsV, k: 'pts', c: GREEN, w: 2 },
  { d: dBlueDotsV, k: 'pts', c: LBLUE, w: 2 },
  { d: dMagDotsV, k: 'pts', c: MAG, w: 2 },
  { d: dDarkRedDots, k: 'pts', c: DRED, w: 2 },
  { d: dRedA, k: 'dots', c: RED, w: 2.8 },
  { d: dRedB, k: 'dots', c: DRED, w: 2.8 },
  { d: dRedV1, k: 'dots', c: ORED, w: 2.6 },
  { d: dGray, k: 'line', c: GRAY, w: 2.5 },
  { d: dLBlue, k: 'line', c: LBLUE, w: 2.6 },
  { d: dLGreen, k: 'line', c: LGREEN, w: 2.4 },
  { d: dGreen2, k: 'line', c: GREEN, w: 2.4 },
  { d: dGreen1, k: 'line', c: GREEN, w: 2.4 },
  { d: dDarkRed1, k: 'line', c: DRED, w: 2.2 },
  { d: dDarkRed2, k: 'line', c: DRED, w: 2.2 },
  { d: dRedMain2, k: 'line', c: ORED, w: 2.2 },
  { d: dRedMain, k: 'line', c: RED, w: 3 },
  { d: dMagBlob2, k: 'blob', c: MAG, w: 7 },
  { d: dMagBig, k: 'big', c: MAG, w: 4 },
  { d: dBlueBlob, k: 'blob', c: LBLUE, w: 7 },
  { d: dGreenBlob, k: 'blob', c: GREEN, w: 6 },
  { d: dMagBlob1, k: 'blob', c: MAG, w: 9 },
  { d: dRedBlob1, k: 'blob', c: RED, w: 13 },
  { d: dRedBlob2, k: 'blob', c: RED, w: 10 },
  { d: dRedBig, k: 'big', c: RED, w: 4.5 },
];

const NoShape = () => <g />;
const TickUp = (p: any) => <line x1={p.cx} y1={p.cy} x2={p.cx} y2={p.cy - 7} stroke="#111" strokeWidth={1.6} />;
const TickRight = (p: any) => <line x1={p.cx} y1={p.cy} x2={p.cx + 8} y2={p.cy} stroke="#111" strokeWidth={1.6} />;

function makeTick(anchor: 'middle' | 'end' | 'start', dy: string, fmt?: (v: number) => string) {
  return (props: any) => {
    const { x, y, payload } = props;
    const v = payload?.value;
    const label = fmt ? fmt(v) : String(v);
    return (
      <text x={x} y={y} dy={dy} textAnchor={anchor} fill="#111" style={TICK_STYLE}>{label}</text>
    );
  };
}

function seriesEls(list: Ser[], prefix: string) {
  const out: React.ReactElement[] = [];
  list.forEach((s, i) => {
    const data = s.d.map(([x, y]) => ({ x, y }));
    const w = s.w ?? 2;
    const key = `${prefix}-${i}`;
    const base = { strokeLinecap: 'round', strokeLinejoin: 'round', fill: 'none' } as any;
    if (s.k === 'line' || s.k === 'dots') {
      const line: any = { ...base, stroke: s.c, strokeWidth: w };
      if (s.k === 'dots') line.strokeDasharray = `0 ${w + 3.2}`;
      out.push(<Scatter key={key} data={data} isAnimationActive={false} shape={NoShape} line={line} />);
    } else if (s.k === 'blob') {
      out.push(<Scatter key={key + 'o'} data={data} isAnimationActive={false} shape={NoShape} line={{ ...base, stroke: OUTLINE, strokeWidth: w + 2.4, strokeOpacity: 0.85 }} />);
      out.push(<Scatter key={key} data={data} isAnimationActive={false} shape={NoShape} line={{ ...base, stroke: s.c, strokeWidth: w }} />);
    } else if (s.k === 'pts') {
      const col = s.c;
      out.push(<Scatter key={key} data={data} isAnimationActive={false} shape={(p: any) => <circle cx={p.cx} cy={p.cy} r={w * 0.85} fill={col} />} />);
    } else {
      const col = s.c;
      out.push(<Scatter key={key} data={data} isAnimationActive={false} shape={(p: any) => <circle cx={p.cx} cy={p.cy} r={w} fill={col} stroke={OUTLINE} strokeWidth={1.2} />} />);
    }
  });
  return out;
}

interface PanelProps {
  id: string; left: number; top: number; width: number; height: number;
  margin: { top: number; right: number; bottom: number; left: number };
  yWidth: number; xDomain: [number, number]; yDomain: [number, number]; yReversed: boolean;
  xTicks: number[]; yTicks: number[]; xFmt?: (v: number) => string;
  xMinor: number[]; yMinor: number[]; series: Ser[];
}

function Panel(p: PanelProps) {
  const yBottom = p.yReversed ? p.yDomain[1] : p.yDomain[0];
  const bottomTicks = p.xMinor.map((x) => ({ x, y: yBottom }));
  const leftTicks = p.yMinor.map((y) => ({ x: p.xDomain[0], y }));
  return (
    <div style={{ position: 'absolute', left: p.left, top: p.top, fontFamily: SERIF }}>
      <ScatterChart width={p.width} height={p.height} margin={p.margin}>
        <CartesianGrid stroke="#4d4d4d" strokeWidth={1.7} strokeOpacity={0.9} />
        <XAxis type="number" dataKey="x" domain={p.xDomain} ticks={p.xTicks} interval={0} allowDataOverflow
          tickLine={false} axisLine={false} tickSize={0} tickMargin={9} height={30} tick={makeTick('middle', '0.71em', p.xFmt)} />
        <YAxis type="number" dataKey="y" domain={p.yDomain} reversed={p.yReversed} ticks={p.yTicks} interval={0} allowDataOverflow
          tickLine={false} axisLine={false} tickSize={0} tickMargin={8} width={p.yWidth} tick={makeTick('end', '0.355em')} />
        {seriesEls(p.series, p.id)}
        <Scatter data={bottomTicks} isAnimationActive={false} shape={TickUp} />
        <Scatter data={leftTicks} isAnimationActive={false} shape={TickRight} />
        <ReferenceArea x1={p.xDomain[0]} x2={p.xDomain[1]} y1={p.yDomain[0]} y2={p.yDomain[1]}
          fill="none" stroke="#111" strokeWidth={2} ifOverflow="visible" />
      </ScatterChart>
    </div>
  );
}

function ColorbarShape(p: any) {
  const { x, y, width: w, height: h } = p;
  const d = `M${x},${y} L${x + w / 2},${y - 11} L${x + w},${y} L${x + w},${y + h} L${x + w / 2},${y + h + 11} L${x},${y + h} Z`;
  return <path d={d} fill="url(#cbarGrad)" stroke="#a0a0a0" strokeWidth={1} />;
}

function Colorbar() {
  const anchor = cbAnchor.map(([x, y]) => ({ x, y }));
  return (
    <div style={{ position: 'absolute', left: 480, top: 0, fontFamily: SERIF }}>
      <ScatterChart width={90} height={520} margin={{ top: 20, right: 0, bottom: 26, left: 17 }}>
        <defs>
          <linearGradient id="cbarGrad" x1="0" y1="0" x2="0" y2="1">
            {cbStops.map(([o, c]) => <stop key={o} offset={o} stopColor={c} />)}
          </linearGradient>
        </defs>
        <XAxis type="number" dataKey="x" domain={[0, 1]} hide />
        <YAxis type="number" dataKey="y" orientation="right" domain={[70, 73]} ticks={cbTicks} interval={0}
          tickLine={false} axisLine={false} tickSize={0} tickMargin={7} width={52} tick={makeTick('start', '0.355em')} />
        <Scatter data={anchor} isAnimationActive={false} shape={NoShape} />
        <ReferenceArea x1={0} x2={1} y1={70} y2={73} shape={ColorbarShape} ifOverflow="visible" />
      </ScatterChart>
    </div>
  );
}

const txt = (x: number, y: number, size: number, rotate = false): React.CSSProperties => ({
  position: 'absolute', left: x, top: y, fontFamily: SERIF, fontSize: size, color: '#111', whiteSpace: 'nowrap',
  transform: rotate ? 'translate(-50%, -50%) rotate(-90deg)' : 'translate(-50%, -50%)', lineHeight: 1,
});

export default function App() {
  const aFmt = (v: number) => {
    const i = aTTicks.findIndex((t) => Math.abs(t - v) < 1e-9);
    return i >= 0 ? aTTickLabels[i] : String(v);
  };
  return (
    <div style={{ position: 'absolute', left: 0, top: 0, width: 1074, height: 1101, background: '#fff', overflow: 'hidden', fontFamily: SERIF }}>
      <Panel id="a" left={0} top={0} width={500} height={545} margin={{ top: 18, right: 25, bottom: 21, left: 0 }}
        yWidth={95} xDomain={[-2.2, -1.4]} yDomain={[0, 400]} yReversed xTicks={aTTicks} yTicks={dTicks}
        xFmt={aFmt} xMinor={aTMinor} yMinor={dMinor} series={aSeries} />
      <Panel id="b" left={582} top={0} width={492} height={545} margin={{ top: 18, right: 14, bottom: 21, left: 0 }}
        yWidth={95} xDomain={[-0.2, 0.2]} yDomain={[0, 400]} yReversed xTicks={bTTicks} yTicks={dTicks}
        xMinor={bTMinor} yMinor={dMinor} series={bSeries} />
      <Panel id="c" left={0} top={547} width={500} height={546} margin={{ top: 18, right: 25, bottom: 20, left: 0 }}
        yWidth={94} xDomain={[34.3, 34.6]} yDomain={[0, 400]} yReversed xTicks={sTicks} yTicks={dTicks}
        xMinor={sMinor} yMinor={dMinor} series={cSeries} />
      <Panel id="d" left={582} top={547} width={492} height={546} margin={{ top: 18, right: 14, bottom: 20, left: 0 }}
        yWidth={95} xDomain={[34.3, 34.6]} yDomain={[-2.2, -1.4]} yReversed={false} xTicks={sTicks} yTicks={dTTicks}
        xMinor={sMinor} yMinor={dTMinor} series={dSeries} />
      <Colorbar />

      <div style={txt(122, 42, 21)}>a</div>
      <div style={txt(707, 41, 21)}>b</div>
      <div style={txt(122, 593, 21)}>c</div>
      <div style={txt(707, 592, 21)}>d</div>

      <div style={txt(287, 544, 20)}><i>T</i> (°C)</div>
      <div style={txt(868, 544, 20)}><i>T</i><sub style={{ fontSize: 13 }}>sc</sub> (°C)</div>
      <div style={txt(285, 1088, 20)}><i>S</i></div>
      <div style={txt(868, 1088, 20)}><i>S</i></div>

      <div style={txt(27, 256, 20, true)}><i>D</i> (m)</div>
      <div style={txt(609, 256, 20, true)}><i>D</i> (m)</div>
      <div style={txt(27, 804, 20, true)}><i>D</i> (m)</div>
      <div style={txt(609, 804, 20, true)}><i>T</i> (°C)</div>
    </div>
  );
}
